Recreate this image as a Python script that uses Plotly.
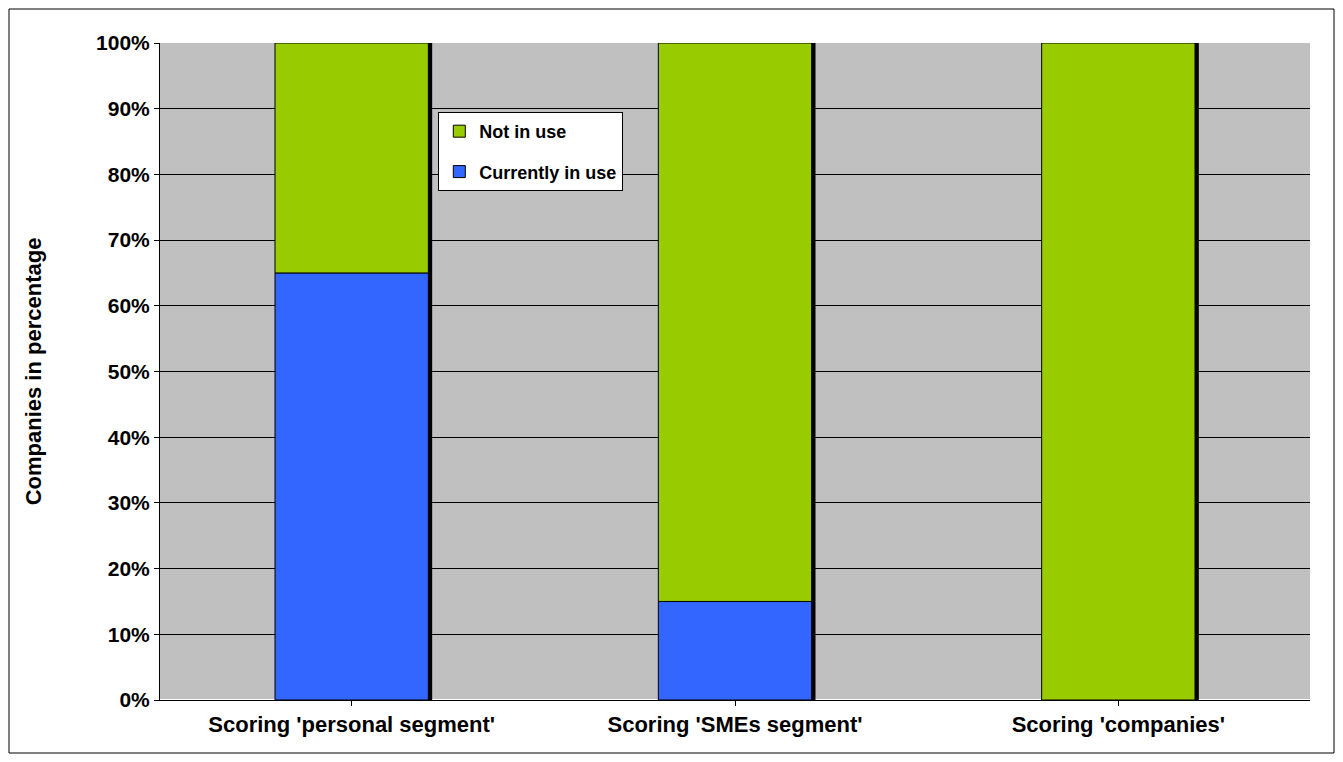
import plotly.graph_objects as go

categories = ["Scoring 'personal segment'", "Scoring 'SMEs segment'", "Scoring 'companies'"]
in_use = [65, 15, 0]
not_in_use = [35, 85, 100]
totals = [a + b for a, b in zip(in_use, not_in_use)]

W, H = 1327, 746
L, R, T, B = 152, 25, 35, 54
pw, ph = W - L - R, H - T - B

fig = go.Figure()
fig.add_trace(go.Bar(x=categories, y=totals, width=0.4, offset=-0.19, marker=dict(color="black", line=dict(width=0)),
                     showlegend=False, hoverinfo="skip"))
fig.add_trace(go.Bar(x=categories, y=in_use, name="<b>Currently in use</b>", width=0.4, offset=-0.2,
                     legendgroup="a", legendrank=2, marker=dict(color="#3366FF", line=dict(color="black", width=1))))
fig.add_trace(go.Bar(x=categories, y=not_in_use, name="<b>Not in use</b>", width=0.4, offset=-0.2, base=in_use,
                     legendgroup="b", legendrank=1, marker=dict(color="#99CC00", line=dict(color="black", width=1))))

fig.update_layout(
    barmode="overlay",
    width=W, height=H,
    paper_bgcolor="white", plot_bgcolor="#C0C0C0",
    margin=dict(l=L, r=R, t=T, b=B),
    font=dict(family="Liberation Sans, Arial", size=21, color="black"),
    legend=dict(x=0.242, y=0.895, xanchor="left", yanchor="top", bgcolor="white",
                bordercolor="black", borderwidth=1, traceorder="grouped", tracegroupgap=14,
                font=dict(size=18), itemwidth=30),
    xaxis=dict(showline=True, linecolor="black", ticks="outside", tickcolor="black",
               tickfont=dict(size=22), tickprefix="<b>", ticksuffix="</b>"),
    yaxis=dict(range=[0, 100], dtick=10, ticksuffix="%</b>", tickprefix="<b>",
               showgrid=True, gridcolor="black", gridwidth=1, showline=True, linecolor="black",
               ticks="outside", tickcolor="black", tickfont=dict(size=21),
               title=dict(text="<b>Companies in percentage</b>", font=dict(size=22), standoff=48)),
    shapes=[dict(type="rect", xref="paper", yref="paper",
                 x0=(-L + 1) / pw, x1=(pw + R - 1) / pw, y0=(-B + 1) / ph, y1=(ph + T - 1) / ph,
                 line=dict(color="black", width=1))],
)
fig.write_html("out.html")
